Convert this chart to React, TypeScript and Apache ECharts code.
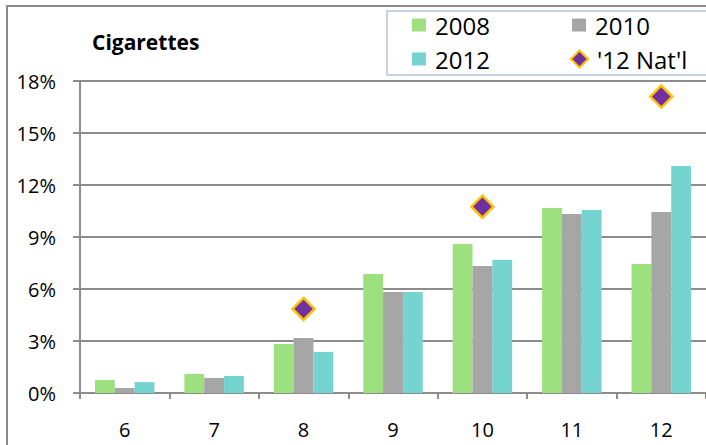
import React, { useEffect, useRef } from "react";
import * as echarts from "echarts";

const categories = ["6", "7", "8", "9", "10", "11", "12"];
const y2008 = [0.75, 1.1, 2.83, 6.87, 8.6, 10.67, 7.44];
const y2010 = [0.29, 0.87, 3.17, 5.83, 7.33, 10.33, 10.44];
const y2012 = [0.63, 0.98, 2.37, 5.83, 7.67, 10.56, 13.1];
const nat12 = [null, null, 4.85, null, 10.75, null, 17.1];
const seriesNames = ["2008", "2010", "2012", "'12 Nat'l"];

const FONT = "'Open Sans', 'Liberation Sans', sans-serif";

export default function App() {
  const ref = useRef<HTMLDivElement>(null);
  useEffect(() => {
    if (!ref.current) return;
    const chart = echarts.init(ref.current, undefined, { renderer: "svg" });
    const legendPos = [
      { left: 412, top: 13 },
      { left: 572, top: 13 },
      { left: 412, top: 47 },
      { left: 570, top: 47 },
    ];
    const legends = seriesNames.map((n, i) => {
      const base: any = {
        data: [n],
        left: legendPos[i].left,
        top: legendPos[i].top,
        itemWidth: i === 3 ? 17 : 14,
        itemHeight: i === 3 ? 17 : 13,
        itemGap: 0,
        padding: 0,
        z: 5,
        textStyle: { fontFamily: FONT, fontSize: 24, color: "#000", padding: [0, 0, 0, 4] },
      };
      if (i < 3) base.icon = "rect";
      return base;
    });
    chart.setOption({
      animation: false,
      backgroundColor: "#ffffff",
      title: {
        text: "Cigarettes",
        left: 87,
        top: 26,
        textStyle: { fontFamily: FONT, fontWeight: "bold", fontSize: 21, color: "#000" },
      },
      graphic: [
        {
          type: "rect",
          shape: { x: 7, y: 6, width: 730, height: 470 },
          style: { fill: "none", stroke: "#8c8c8c", lineWidth: 2 },
          z: 0,
        },
        {
          type: "rect",
          shape: { x: 387, y: 11, width: 340, height: 64 },
          style: { fill: "#ffffff", stroke: "#c5d2e6", lineWidth: 2 },
          z: 1,
        },
      ],
      legend: legends,
      grid: { left: 80, top: 81, width: 632, height: 312, containLabel: false },
      xAxis: {
        type: "category",
        data: categories,
        axisLine: { lineStyle: { color: "#8c8c8c", width: 2 } },
        axisTick: { show: true, length: 6, lineStyle: { color: "#8c8c8c", width: 2 } },
        axisLabel: { fontFamily: FONT, fontSize: 20, color: "#000", margin: 26 },
        splitLine: { show: false },
      },
      yAxis: {
        type: "value",
        min: 0,
        max: 18,
        interval: 3,
        axisLine: { show: true, lineStyle: { color: "#8c8c8c", width: 2 } },
        axisTick: { show: true, length: 7, lineStyle: { color: "#8c8c8c", width: 2 } },
        axisLabel: {
          fontFamily: FONT,
          fontSize: 20,
          color: "#000",
          margin: 24,
          formatter: "{value}%",
        },
        splitLine: { show: true, lineStyle: { color: "#8c8c8c", width: 2 } },
      },
      series: [
        {
          name: "2008",
          type: "bar",
          data: y2008,
          barGap: "0%",
          barCategoryGap: "33.5%",
          itemStyle: { color: "#9de07f" },
        },
        {
          name: "2010",
          type: "bar",
          data: y2010,
          barGap: "0%",
          barCategoryGap: "33.5%",
          itemStyle: { color: "#a6a6a6" },
        },
        {
          name: "2012",
          type: "bar",
          data: y2012,
          barGap: "0%",
          barCategoryGap: "33.5%",
          itemStyle: { color: "#75d4d0" },
        },
        {
          name: "'12 Nat'l",
          type: "scatter",
          data: nat12,
          symbol: "diamond",
          symbolSize: 22,
          z: 10,
          itemStyle: { color: "#7030a0", borderColor: "#ffc000", borderWidth: 2.5, opacity: 1 },
        },
      ],
    });
    return () => chart.dispose();
  }, []);
  return (
    <div
      ref={ref}
      style={{ position: "fixed", left: 0, top: 0, width: 706, height: 445 }}
    />
  );
}
